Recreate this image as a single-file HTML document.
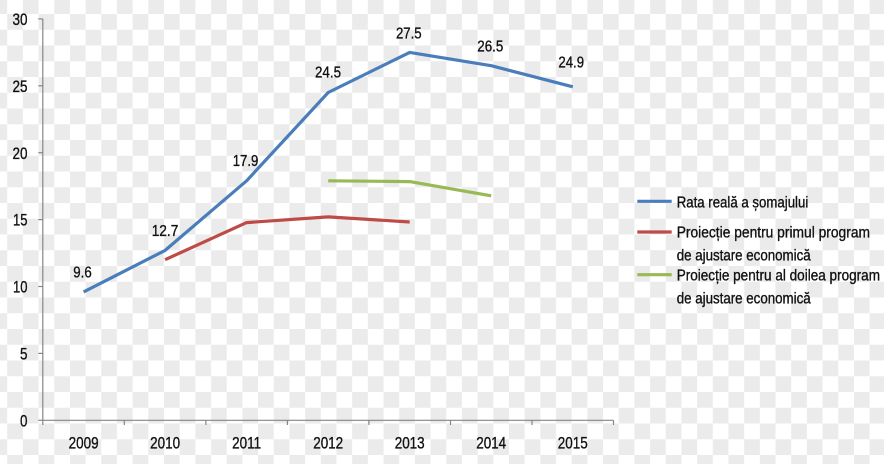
<!DOCTYPE html>
<html><head><meta charset="utf-8">
<style>
html,body{margin:0;padding:0;background:#fff;}
svg{display:block;}
text{font-family:"Liberation Sans",sans-serif;fill:#111;stroke:#111;stroke-width:0.35px;}
</style></head>
<body>
<svg width="884" height="464" viewBox="0 0 884 464" xmlns="http://www.w3.org/2000/svg">
<defs>
<pattern id="chk" patternUnits="userSpaceOnUse" x="7.2" y="14" width="31.36" height="31.5">
<rect x="0" y="0" width="31.36" height="31.5" fill="#ffffff"/>
<rect x="0" y="0" width="15.68" height="15.75" fill="#ebebeb"/>
<rect x="15.68" y="15.75" width="15.68" height="15.75" fill="#ebebeb"/>
</pattern>
</defs>
<rect x="0" y="0" width="884" height="464" fill="url(#chk)"/>

<!-- axes -->
<g stroke="#868686" stroke-width="1.2" fill="none">
<line x1="42.8" y1="18.9" x2="42.8" y2="420.3"/>
<line x1="42.8" y1="420.3" x2="613.5" y2="420.3"/>
<line x1="38.3" y1="18.9" x2="42.8" y2="18.9"/>
<line x1="38.3" y1="85.8" x2="42.8" y2="85.8"/>
<line x1="38.3" y1="152.7" x2="42.8" y2="152.7"/>
<line x1="38.3" y1="219.6" x2="42.8" y2="219.6"/>
<line x1="38.3" y1="286.5" x2="42.8" y2="286.5"/>
<line x1="38.3" y1="353.4" x2="42.8" y2="353.4"/>
<line x1="38.3" y1="420.3" x2="42.8" y2="420.3"/>
<line x1="42.8" y1="420.3" x2="42.8" y2="425"/>
<line x1="124.3" y1="420.3" x2="124.3" y2="425"/>
<line x1="205.9" y1="420.3" x2="205.9" y2="425"/>
<line x1="287.4" y1="420.3" x2="287.4" y2="425"/>
<line x1="368.9" y1="420.3" x2="368.9" y2="425"/>
<line x1="450.5" y1="420.3" x2="450.5" y2="425"/>
<line x1="532" y1="420.3" x2="532" y2="425"/>
<line x1="613.5" y1="420.3" x2="613.5" y2="425"/>
</g>

<!-- y labels -->
<g font-size="17" text-anchor="end">
<text x="27.5" y="25" textLength="15" lengthAdjust="spacingAndGlyphs">30</text>
<text x="27.5" y="91.9" textLength="15" lengthAdjust="spacingAndGlyphs">25</text>
<text x="27.5" y="158.8" textLength="15" lengthAdjust="spacingAndGlyphs">20</text>
<text x="27.5" y="225.7" textLength="14.5" lengthAdjust="spacingAndGlyphs">15</text>
<text x="27.5" y="292.6" textLength="14.5" lengthAdjust="spacingAndGlyphs">10</text>
<text x="27.5" y="359.5" textLength="7.5" lengthAdjust="spacingAndGlyphs">5</text>
<text x="27.5" y="426.4" textLength="7.5" lengthAdjust="spacingAndGlyphs">0</text>
</g>

<!-- x labels -->
<g font-size="17" text-anchor="middle">
<text x="83.6" y="448.3" textLength="30" lengthAdjust="spacingAndGlyphs">2009</text>
<text x="165.1" y="448.3" textLength="30" lengthAdjust="spacingAndGlyphs">2010</text>
<text x="246.6" y="448.3" textLength="29" lengthAdjust="spacingAndGlyphs">2011</text>
<text x="328.2" y="448.3" textLength="30" lengthAdjust="spacingAndGlyphs">2012</text>
<text x="409.7" y="448.3" textLength="30" lengthAdjust="spacingAndGlyphs">2013</text>
<text x="491.2" y="448.3" textLength="30" lengthAdjust="spacingAndGlyphs">2014</text>
<text x="572.8" y="448.3" textLength="30" lengthAdjust="spacingAndGlyphs">2015</text>
</g>

<!-- series -->
<g fill="none" stroke-width="3.2" stroke-linejoin="round" stroke-linecap="butt">
<polyline stroke="#4a7ebb" points="83.6,291.9 165.1,250.4 246.6,180.8 328.2,92.5 409.7,52.4 491.2,65.7 572.8,86.8"/>
<polyline stroke="#be4b48" points="165.1,259.7 246.6,222.6 328.2,216.9 409.7,222"/>
<polyline stroke="#98b954" points="328.2,180.8 409.7,181.6 491.2,195.8"/>
</g>

<!-- data labels -->
<g font-size="16" text-anchor="middle">
<text x="82.5" y="277.3" textLength="18.4" lengthAdjust="spacingAndGlyphs">9.6</text>
<text x="165" y="236" textLength="26.6" lengthAdjust="spacingAndGlyphs">12.7</text>
<text x="245.5" y="166" textLength="25.6" lengthAdjust="spacingAndGlyphs">17.9</text>
<text x="328" y="77.7" textLength="26" lengthAdjust="spacingAndGlyphs">24.5</text>
<text x="408.8" y="38.3" textLength="25.7" lengthAdjust="spacingAndGlyphs">27.5</text>
<text x="490.3" y="51.7" textLength="26" lengthAdjust="spacingAndGlyphs">26.5</text>
<text x="571.2" y="67.7" textLength="25.7" lengthAdjust="spacingAndGlyphs">24.9</text>
</g>

<!-- legend -->
<g stroke-width="3.2">
<line x1="637.3" y1="201.3" x2="671.7" y2="201.3" stroke="#4a7ebb"/>
<line x1="637.3" y1="232" x2="671.7" y2="232" stroke="#be4b48"/>
<line x1="637.3" y1="274.7" x2="671.7" y2="274.7" stroke="#98b954"/>
</g>
<g font-size="15.5">
<text x="676.7" y="207.3" textLength="131.6" lengthAdjust="spacingAndGlyphs">Rata reală a șomajului</text>
<text x="676.7" y="237.7" textLength="193.3" lengthAdjust="spacingAndGlyphs">Proiecție pentru primul program</text>
<text x="676.7" y="260.3" textLength="134" lengthAdjust="spacingAndGlyphs">de ajustare economică</text>
<text x="676.7" y="280.7" textLength="203.3" lengthAdjust="spacingAndGlyphs">Proiecție pentru al doilea program</text>
<text x="676.7" y="303.3" textLength="134" lengthAdjust="spacingAndGlyphs">de ajustare economică</text>
</g>
</svg>
</body></html>
